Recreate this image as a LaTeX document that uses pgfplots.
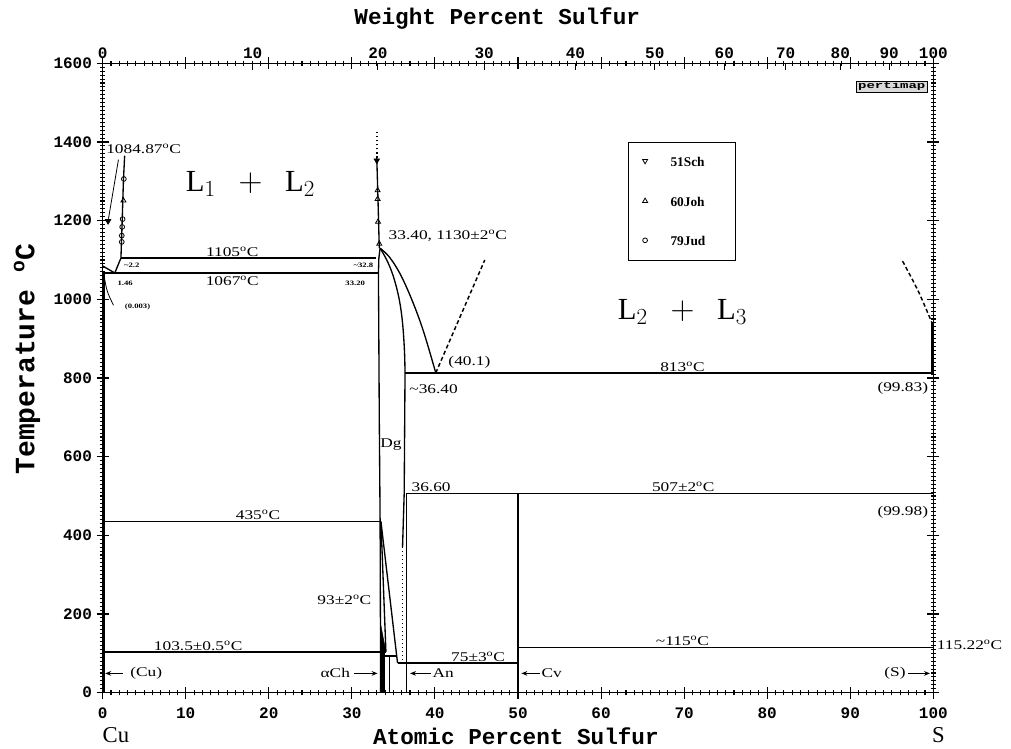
\documentclass[border=0pt]{standalone}
\usepackage{pgfplots}
\pgfplotsset{compat=1.18}
\usepackage{fontspec}
\setmainfont{Liberation Serif}
\setmonofont{Liberation Mono}
\newfontfamily\annfont[FakeStretch=1.3]{Liberation Serif}
\usetikzlibrary{arrows.meta}
\newcommand\dg{\textsuperscript{o}C}
\newcommand\ann{\annfont\fontsize{10}{12}\selectfont}
\newcommand\tin{\annfont\bfseries\fontsize{5}{6}\selectfont}
\tikzset{arr/.style={line width=1pt,-{Stealth[length=4.5pt,width=3.5pt]}}}
\begin{document}
\begin{tikzpicture}
\useasboundingbox (-77pt,-42.2pt) rectangle (681.25pt,519.5pt);
\pgfplotsset{
  pl/.style={black,line width=1pt,mark=none},
  dsh/.style={black,line width=1.1pt,mark=none,dash pattern=on 3pt off 2pt},
}
\begin{axis}[name=main, at={(0,0)}, anchor=south west, scale only axis,
  width=623pt, height=472pt,
  xmin=0, xmax=100, ymin=0, ymax=1600,
  xtick={0,10,...,100}, minor x tick num=9,
  ytick={0,200,...,1600}, minor y tick num=19,
  xtick pos=both, xticklabel pos=bottom,
  ytick pos=both, yticklabel pos=left,
  tick align=center, major tick length=9pt, minor tick length=4pt,
  tick style={black,line width=0.8pt},
  axis line style={black,line width=1pt},
  tick label style={font=\ttfamily\bfseries\fontsize{12}{14}\selectfont},
  xticklabel style={yshift=-3pt},
  /pgf/number format/assume math mode=true,
  /pgf/number format/1000 sep={},
  clip=false]
% ---- Cu side
\addplot[pl] coordinates {(0,1084.87)(1.46,1067)};
\addplot[pl] coordinates {(1.46,1067)(2.2,1105)};
\addplot[pl,smooth] coordinates {(2.2,1105)(2.35,1200)(2.5,1300)(2.65,1365)};
\addplot[pl] coordinates {(2.2,1105)(32.9,1105)};
\addplot[pl] coordinates {(0,1067)(33.2,1067)};
\addplot[black,line width=1.6pt] coordinates {(0.12,0)(0.12,1067)};
% ---- Dg
\addplot[pl] coordinates {(33.3,1130)(33.15,1250)(33.0,1360)};
\addplot[black,line width=1.1pt,dotted] coordinates {(33.0,1360)(33.0,1425)};
\addplot[pl] coordinates {(33.4,1130)(33.25,1105)(33.2,1067)(33.3,700)(33.4,435)(33.45,104)(33.45,0)};
\addplot[pl,smooth,tension=0.6] coordinates {(33.4,1130)(34.5,1108)(35.8,1065)(37.2,1000)(38.6,920)(40.1,813)};
\addplot[pl,smooth,tension=0.6] coordinates {(33.4,1130)(34.2,1100)(35.0,1058)(35.7,1000)(36.1,940)(36.33,870)(36.4,813)};
\addplot[pl] coordinates {(36.4,813)(36.3,507)(36.1,370)};
\addplot[black,line width=1pt,dotted] coordinates {(36.1,370)(36.1,75)};
\addplot[pl] coordinates {(36.6,507)(36.6,0)};
\addplot[dsh] coordinates {(40.1,813)(46.0,1100)};
\addplot[dsh,smooth] coordinates {(96.3,1097)(98.2,1020)(99.8,942)};
\addplot[pl] coordinates {(99.83,942)(99.83,813)};
% ---- horizontals
\addplot[pl] coordinates {(36.4,813)(100,813)};
\addplot[pl] coordinates {(36.6,507)(100,507)};
\addplot[pl] coordinates {(50,0)(50,507)};
\addplot[pl] coordinates {(50,115)(100,115)};
\addplot[pl] coordinates {(35.5,75)(50,75)};
\addplot[pl] coordinates {(0,435)(33.4,435)};
\addplot[pl] coordinates {(0,103.5)(34.1,103.5)};
\addplot[pl] coordinates {(33.5,435)(35.5,75)};
\addplot[pl] coordinates {(33.5,435)(34.1,104)};
\addplot[pl] coordinates {(34.0,93)(35.4,93)};
\addplot[pl] coordinates {(34.5,0)(34.5,93)};
\addplot[fill=black,draw=black] coordinates {(33.45,175)(33.45,104)(34.1,104)(33.45,175)};
\addplot[black,line width=3pt] coordinates {(33.7,0)(33.7,104)};
% ---- data points
\addplot[only marks, mark=triangle*, mark size=2.3pt, mark options={rotate=180,fill=black,line width=0.6pt}] coordinates {(0.65,1199)(33.0,1353)};
\addplot[only marks, mark=triangle, mark size=2.2pt, mark options={fill=white,line width=0.6pt}] coordinates {(2.5,1251)(33.1,1277)(33.1,1255)(33.15,1197)(33.3,1141)};
\addplot[only marks, mark=o, mark size=1.8pt, mark options={fill=white,line width=0.6pt}] coordinates {(2.55,1306)(2.4,1204)(2.35,1184)(2.3,1162)(2.3,1146)};
% ---- legend
\draw[line width=0.9pt] (axis cs:63.3,1098) rectangle (axis cs:76.2,1398);
\addplot[only marks, mark=triangle, mark size=2.2pt, mark options={rotate=180,line width=0.6pt}] coordinates {(65.3,1352)};
\addplot[only marks, mark=triangle, mark size=2.2pt, mark options={line width=0.6pt}] coordinates {(65.3,1250)};
\addplot[only marks, mark=o, mark size=1.8pt, mark options={line width=0.6pt}] coordinates {(65.3,1150)};
\node[anchor=west,font=\bfseries\fontsize{10}{12}\selectfont] at (axis cs:67.8,1350) {51Sch};
\node[anchor=west,font=\bfseries\fontsize{10}{12}\selectfont] at (axis cs:67.8,1248) {60Joh};
\node[anchor=west,font=\bfseries\fontsize{10}{12}\selectfont] at (axis cs:67.8,1148) {79Jud};
% ---- stamp
\node[draw,fill=gray!30,inner sep=1pt,xscale=1.5,font=\ttfamily\bfseries\fontsize{7}{8}\selectfont] at (axis cs:95,1541) {pertimap};
% ---- leaders
\draw[line width=0.6pt] (axis cs:1.9,1355) -- (axis cs:0.7,1205);
\draw[line width=0.6pt] (axis cs:0.15,1062) .. controls (axis cs:0.5,1020) .. (axis cs:1.3,985);
% ---- region labels
\node at (axis cs:17.8,1294) {\fontsize{23}{27}\selectfont$\mathrm{L}_1\ \ +\ \ \mathrm{L}_2$};
\node at (axis cs:69.8,967) {\fontsize{23}{27}\selectfont$\mathrm{L}_2\ \ +\ \ \mathrm{L}_3$};
\node[font=\ann] at (axis cs:34.7,631) {Dg};
% ---- annotations
\node[anchor=west,inner sep=0pt,font=\ann] at (axis cs:0.4,1383) {1084.87\dg};
\node[anchor=south,inner sep=1pt,font=\ann] at (axis cs:15.6,1105) {1105\dg};
\node[anchor=north,inner sep=1pt,font=\ann] at (axis cs:15.6,1062) {1067\dg};
\node[inner sep=0pt,font=\tin] at (axis cs:3.5,1086) {\textasciitilde2.2};
\node[inner sep=0pt,font=\tin] at (axis cs:2.7,1041) {1.46};
\node[inner sep=0pt,font=\tin] at (axis cs:4.2,980) {(0.003)};
\node[inner sep=0pt,font=\tin] at (axis cs:31.4,1086) {\textasciitilde32.8};
\node[inner sep=0pt,font=\tin] at (axis cs:30.4,1041) {33.20};
\node[anchor=west,inner sep=0pt,font=\ann] at (axis cs:34.4,1162) {33.40, 1130±2\dg};
\node[anchor=west,inner sep=0pt,font=\ann] at (axis cs:41.6,840) {(40.1)};
\node[anchor=west,inner sep=0pt,font=\ann] at (axis cs:36.9,772) {\textasciitilde36.40};
\node[anchor=south,inner sep=1pt,font=\ann] at (axis cs:69.8,813) {813\dg};
\node[anchor=east,inner sep=0pt,font=\ann] at (axis cs:99.4,775) {(99.83)};
\node[anchor=south west,inner sep=1pt,font=\ann] at (axis cs:37,507) {36.60};
\node[anchor=south,inner sep=1pt,font=\ann] at (axis cs:69.9,507) {507±2\dg};
\node[anchor=east,inner sep=0pt,font=\ann] at (axis cs:99.4,458) {(99.98)};
\node[anchor=south,inner sep=1pt,font=\ann] at (axis cs:18.7,435) {435\dg};
\node[inner sep=0pt,font=\ann] at (axis cs:29.1,236) {93±2\dg};
\node[anchor=south,inner sep=1pt,font=\ann] at (axis cs:11.5,103.5) {103.5±0.5\dg};
\node[anchor=south,inner sep=1pt,font=\ann] at (axis cs:45.2,75) {75±3\dg};
\node[anchor=south,inner sep=1pt,font=\ann] at (axis cs:69.8,115) {\textasciitilde115\dg};
\node[anchor=west,inner sep=0pt,font=\ann] at (axis cs:100.4,121) {115.22\dg};
% ---- phase arrows
\draw[arr] (axis cs:2.4,49) -- (axis cs:0.3,49);
\node[anchor=west,inner sep=0pt,font=\ann] at (axis cs:3.3,49) {(Cu)};
\node[anchor=east,inner sep=0pt,font=\ann] at (axis cs:29.8,49) {αCh};
\draw[arr] (axis cs:30.2,49) -- (axis cs:33.1,49);
\draw[arr] (axis cs:39.5,49) -- (axis cs:37.0,49);
\node[anchor=west,inner sep=0pt,font=\ann] at (axis cs:39.7,49) {An};
\draw[arr] (axis cs:52.6,49) -- (axis cs:50.4,49);
\node[anchor=west,inner sep=0pt,font=\ann] at (axis cs:52.8,49) {Cv};
\node[anchor=east,inner sep=0pt,font=\ann] at (axis cs:96.7,49) {(S)};
\draw[arr] (axis cs:97.0,49) -- (axis cs:99.6,49);
% ---- axis titles
\node[font=\ttfamily\bfseries\fontsize{17}{20}\selectfont] at ([yshift=-33pt]rel axis cs:0.4975,0) {Atomic Percent Sulfur};
\node[font=\ttfamily\bfseries\fontsize{17}{20}\selectfont] at ([yshift=33.7pt]rel axis cs:0.475,1) {Weight Percent Sulfur};
\node[rotate=90,font=\ttfamily\bfseries\fontsize{21}{25}\selectfont] at ([xshift=-56.8pt]rel axis cs:0,0.53) {Temperature \textsuperscript{o}C};
\node[font=\fontsize{17}{19}\selectfont] at ([yshift=-32pt]axis cs:1.6,0) {Cu};
\node[font=\fontsize{17}{19}\selectfont] at ([yshift=-32pt]axis cs:100.6,0) {S};
\end{axis}
\begin{axis}[at={(0,0)}, anchor=south west, scale only axis,
  width=623pt, height=472pt,
  xmin=0, xmax=100, ymin=0, ymax=1600,
  axis x line*=top, axis y line=none,
  xtick={0,18.05,33.13,45.93,56.92,66.47,74.83,82.22,88.80,94.69,100},
  xticklabels={0,10,20,30,40,50,60,70,80,90,100},
  tick align=inside, major tick length=5pt,
  tick style={black,line width=0.8pt},
  axis line style={black,line width=1pt},
  tick label style={font=\ttfamily\bfseries\fontsize{12}{14}\selectfont},
  /pgf/number format/assume math mode=true]
\addplot[draw=none] coordinates {(0,0)(100,1600)};
\end{axis}
\end{tikzpicture}
\end{document}
